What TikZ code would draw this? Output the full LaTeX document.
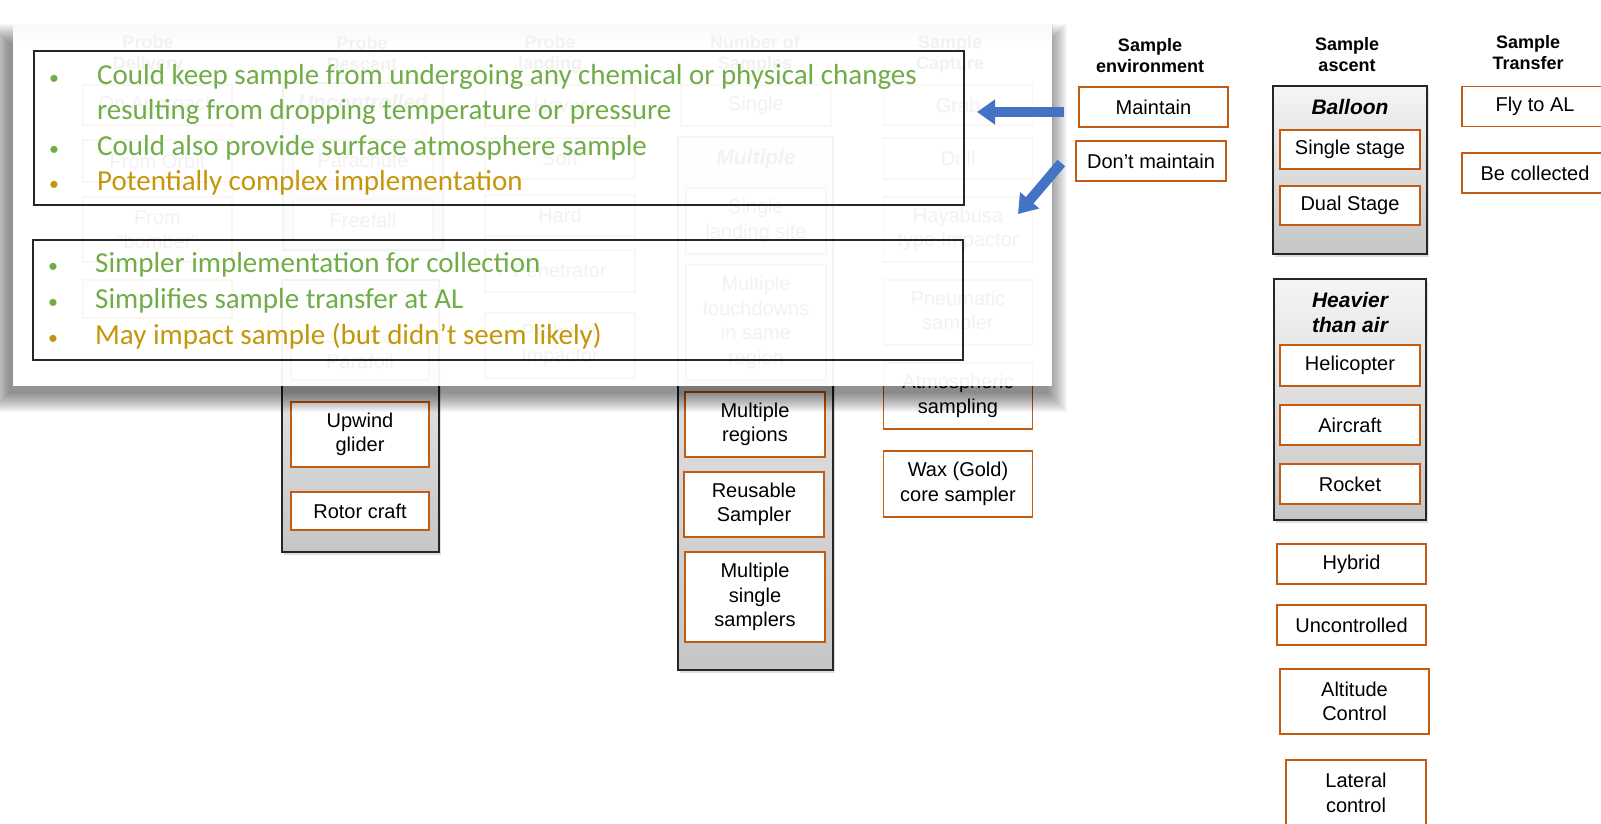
\documentclass[tikz,border=0pt]{standalone}
\usepackage{fontspec}
\setmainfont{Liberation Sans}
\newfontfamily\califont{Carlito}
\usetikzlibrary{arrows.meta,shadows}

\definecolor{boxedge}{RGB}{197,90,17}
\definecolor{okgreen}{RGB}{112,173,71}
\definecolor{warngold}{RGB}{196,150,10}
\definecolor{arrowblue}{RGB}{68,114,196}

\tikzset{
  optbox/.style={draw=boxedge, line width=1.4pt, fill=white, align=center, inner sep=0pt,
    font=\fontsize{20}{24.5}\selectfont},
  groupbox/.style={draw=black!85, line width=1.6pt, top color=gray!8, bottom color=gray!45,
    drop shadow={shadow xshift=2pt, shadow yshift=-3pt, opacity=.25}},
  colhead/.style={align=center, font=\fontsize{18}{21}\selectfont\bfseries},
  grouphead/.style={align=center, font=\fontsize{21}{25}\selectfont\bfseries\itshape},
  notebox/.style={draw=black!85, line width=1.5pt},
  noteline/.style={anchor=base west, inner sep=0pt, font=\fontsize{29}{34}\califont},
  notedot/.style={anchor=base, inner sep=0pt, font=\fontsize{20}{24}\califont},
  bluearrow/.style={draw=arrowblue, line width=10pt, -{Triangle[length=18pt,width=24pt]}},
}

\begin{document}
\begin{tikzpicture}[x=1pt, y=-1pt]
    \useasboundingbox (0,0) rectangle (1601,823);

    % column heads
    \node[colhead] (hdeliv) at (148,54) {Probe\\Delivery};
    \node[colhead] (hdesc) at (362,54) {Probe\\Descent};
    \node[colhead] (hland) at (550,54) {Probe\\landing};
    \node[colhead] (hnum) at (755,54) {Number of\\Samples};
    \node[colhead] (hcapt) at (950,54) {Sample\\Capture};
    \node[colhead] (henv) at (1150,56) {Sample\\environment};
    \node[colhead] (hasc) at (1347,55) {Sample\\ascent};
    \node[colhead] (htrans) at (1528,53) {Sample\\Transfer};

    % grey frames round a family of options
    \node[groupbox, minimum width=160pt, minimum height=167pt] (uncgrp) at (363,166.5) {};
    \node[groupbox, minimum width=157pt, minimum height=272pt] (ctrlgrp) at (360.5,416) {};
    \node[groupbox, minimum width=155pt, minimum height=533pt] (multgrp) at (755.5,403.5) {};
    \node[groupbox, minimum width=154pt, minimum height=168pt] (balgrp) at (1350,170) {};
    \node[groupbox, minimum width=152pt, minimum height=241pt] (hvygrp) at (1350,399.5) {};
    \node[grouphead] (unchead) at (363,102) {Uncontrolled};
    \node[grouphead] (multhead) at (756,159) {Multiple};
    \node[grouphead] (balhead) at (1350,107) {Balloon};
    \node[grouphead] (hvyhead) at (1350,312) {Heavier\\than air};

    % options
    \foreach \nm/\x/\y/\w/\h/\txt in {
        onappr/157.5/105/149/40/On Approach,
        fromorb/157.5/161/149/42/From Orbit,
        frombomb/157.5/229.5/149/65/From\\``bomber'',
        fromx/157.5/299/149/38/{},
        parachute/363/160/140/40/Parachute,
        freefall/363/220/140/40/Freefall,
        parafoil/360/361/138/38/Parafoil,
        upwind/360/434.5/138/65/Upwind\\glider,
        rotor/360/511/138/38/Rotor craft,
        hover/560/105.5/150/41/Hover,
        soft/560/158.5/150/41/Soft,
        hard/560/215.5/150/41/Hard,
        penetr/560/271/150/42/Penetrator,
        impact/560/345.5/150/65/Probe or\\Impactor,
        single/756/105.5/150/41/Single,
        onesite/756/221/140/66/Single\\landing site,
        touchdn/756/322.5/140/115/Multiple\\touchdowns\\in same\\region,
        regions/755/424.5/140/65/Multiple\\regions,
        reusable/754/504.5/140/65/Reusable\\Sampler,
        singles/755/597/140/90/Multiple\\single\\samplers,
        grab/958/105/149/40/Grab,
        drill/958/158.5/149/41/Drill,
        hayabusa/958/229.5/149/65/Hayabusa\\type Impactor,
        pneum/958/312.5/149/65/Pneumatic\\sampler,
        atmos/958/396/149/66/Atmospheric\\sampling,
        wax/958/484/149/66/Wax (Gold)\\core sampler,
        maintain/1153.5/107/149/40/Maintain,
        dontmaintain/1151/161/150/40/Don't maintain,
        sstage/1350/149.5/140/39/Single stage,
        dstage/1350/205.5/140/39/Dual Stage,
        heli/1350/365.5/140/41/Helicopter,
        aircraft/1350/425/140/40/Aircraft,
        rocket/1350/484/140/40/Rocket,
        hybrid/1351.5/564/149/40/Hybrid,
        uncontr/1351.5/625/149/40/Uncontrolled,
        altctl/1354.5/701.5/149/65/Altitude\\Control,
        latctl/1356/793/140/66/Lateral\\control,
        flyal/1535/106.5/146/40/Fly to AL,
        collect/1535/173/146/40/Be collected} {
        \node[optbox, minimum width=\w pt, minimum height=\h pt] (\nm) at (\x,\y) {\txt};
    }

    % shadow and the slide laid over the left part
    \foreach \d in {1,...,20}
        \fill[black, opacity=.028, even odd rule] (10-\d,44-\d) rectangle (1047+\d,392+\d)
            (13,24) rectangle (1052,386);
    \fill[white, opacity=.95] (13,24) rectangle (1052,386);

    \node[notebox, minimum width=930pt, minimum height=154pt] (keepbox) at (499,128) {};
    \node[notebox, minimum width=930pt, minimum height=120pt] (dropbox) at (498,300) {};
    \foreach \y/\col/\txt in {
        84/okgreen/Could keep sample from undergoing any chemical or physical changes,
        119/okgreen/resulting from dropping temperature or pressure,
        155/okgreen/Could also provide surface atmosphere sample,
        190/warngold/Potentially complex implementation} {
        \node[noteline, text=\col] (note\y) at (97,\y) {\txt};
    }
    \foreach \y/\col/\txt in {
        272/okgreen/Simpler implementation for collection,
        308/okgreen/Simplifies sample transfer at AL,
        344/warngold/May impact sample (but didn’t seem likely)} {
        \node[noteline, text=\col] (note\y) at (95,\y) {\txt};
    }
    \foreach \y/\col in {84/okgreen,155/okgreen,190/warngold} \node[notedot, text=\col] (dot\y) at (54,\y) {\textbullet};
    \foreach \y/\col in {272/okgreen,308/okgreen,344/warngold} \node[notedot, text=\col] (dot\y) at (53,\y) {\textbullet};

    % arrows
    \coordinate (keeptip) at (977,112);
    \coordinate (droptip) at (1018,214);
    \draw[bluearrow] ([xshift=-14pt,yshift=-5pt]maintain.west) -- (keeptip);
    \draw[bluearrow] ([xshift=-14pt,yshift=-2pt]dontmaintain.west) -- (droptip);
\end{tikzpicture}
\end{document}
